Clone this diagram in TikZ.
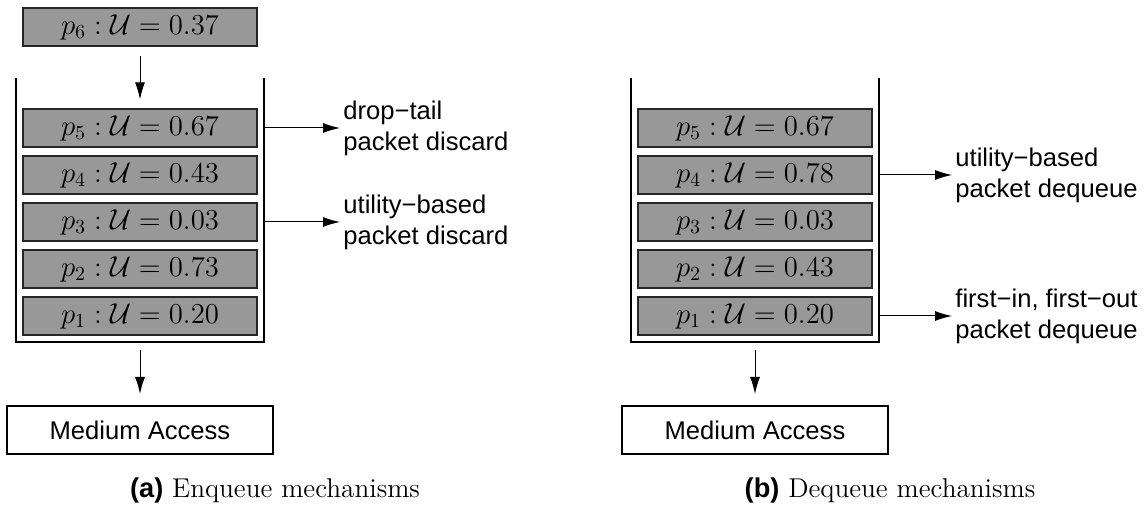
\documentclass[tikz,border=0pt]{standalone}
\usepackage{fontspec}
\newfontfamily\lab{Liberation Sans}
\usetikzlibrary{arrows.meta}
\definecolor{pktgray}{RGB}{152,152,152}
\tikzset{
  pkt/.style={draw=black!85, line width=0.6pt, fill=pktgray, minimum width=117pt, minimum height=19pt, inner sep=0pt, font=\fontsize{14}{16}\selectfont},
  medbox/.style={draw, line width=1pt, minimum width=133pt, minimum height=24pt, inner sep=0pt, font=\lab\fontsize{12.8}{15}\selectfont},
  lbl/.style={anchor=west, align=left, inner sep=1.5pt, font=\lab\fontsize{12.8}{15.5}\selectfont},
  arr/.style={-{Latex[length=8.5pt,width=5pt]}, line width=0.5pt},
  wall/.style={line width=1.3pt},
  captxt/.style={inner sep=0pt, font=\fontsize{13.6}{16}\selectfont}
}
\begin{document}
\begin{tikzpicture}[x=0.5pt, y=-0.5pt]
\useasboundingbox (0,0) rectangle (1147,507);
% ---------- (a) Enqueue ----------
\node[pkt] (p6) at (140,27) {$p_6:\mathcal{U}=0.37$};
\node[pkt] (a5) at (140,128) {$p_5:\mathcal{U}=0.67$};
\node[pkt] (a4) at (140,175) {$p_4:\mathcal{U}=0.43$};
\node[pkt] (a3) at (140,222) {$p_3:\mathcal{U}=0.03$};
\node[pkt] (a2) at (140,269) {$p_2:\mathcal{U}=0.73$};
\node[pkt] (a1) at (140,316) {$p_1:\mathcal{U}=0.20$};
\draw[wall] (16,78) -- (16,342) -- (264,342) -- (264,78);
\coordinate (awa) at (265,128);
\coordinate (awb) at (265,222);
\coordinate (abot) at (140,342);
\node[lbl] (la1) at (340,128) {drop−tail\\packet discard};
\node[lbl] (la2) at (340,222) {utility−based\\packet discard};
\draw[arr] (awa) -- (la1.west);
\draw[arr] (awb) -- (la2.west);
\draw[arr] ([yshift=-4.5pt]p6.south) -- ([yshift=4.5pt]a5.north);
\node[medbox] (ma) at (140,430) {Medium Access};
\draw[arr] ([yshift=-4pt]abot) -- ([yshift=5.5pt]ma.north);
\node[captxt] (capa) at (275,490) {{\lab\bfseries (a)} Enqueue mechanisms};
% ---------- (b) Dequeue ----------
\node[pkt] (b5) at (755,128) {$p_5:\mathcal{U}=0.67$};
\node[pkt] (b4) at (755,175) {$p_4:\mathcal{U}=0.78$};
\node[pkt] (b3) at (755,222) {$p_3:\mathcal{U}=0.03$};
\node[pkt] (b2) at (755,269) {$p_2:\mathcal{U}=0.43$};
\node[pkt] (b1) at (755,316) {$p_1:\mathcal{U}=0.20$};
\draw[wall] (631,78) -- (631,342) -- (879,342) -- (879,78);
\coordinate (bwa) at (880,175);
\coordinate (bwb) at (880,316);
\coordinate (bbot) at (755,342);
\node[lbl] (lb1) at (952,175) {utility−based\\packet dequeue};
\node[lbl] (lb2) at (952,316) {first−in, first−out\\packet dequeue};
\draw[arr] (bwa) -- (lb1.west);
\draw[arr] (bwb) -- (lb2.west);
\node[medbox] (mb) at (755,430) {Medium Access};
\draw[arr] ([yshift=-4pt]bbot) -- ([yshift=5.5pt]mb.north);
\node[captxt] (capb) at (890,490) {{\lab\bfseries (b)} Dequeue mechanisms};
\end{tikzpicture}
\end{document}
